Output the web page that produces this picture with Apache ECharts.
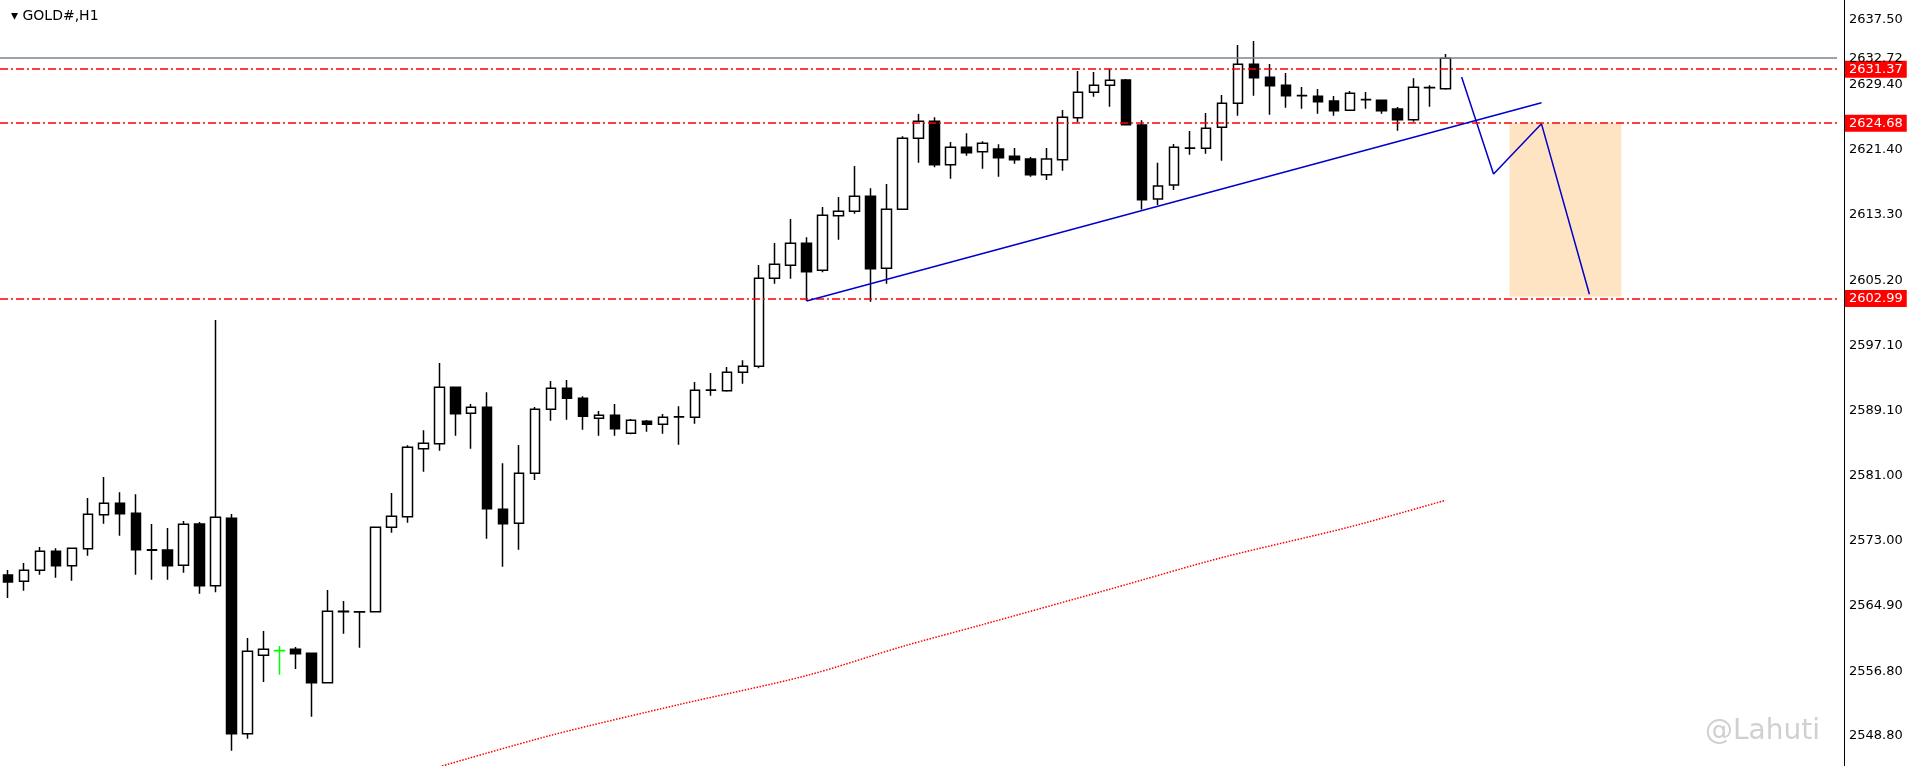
<!DOCTYPE html>
<html>
<head>
<meta charset="utf-8">
<script src="https://cdn.jsdelivr.net/npm/echarts@6/dist/echarts.min.js"></script>
<style>
  html, body { margin: 0; padding: 0; background: #fff; }
  #chart { width: 1920px; height: 766px; }
</style>
</head>
<body>
<div id="chart"></div>
<script>
    // 每根K线: [open, close, low, high]
    var candles = [
        [2568.74, 2567.88, 2565.90, 2569.36], [2567.97, 2569.33, 2566.80, 2570.23], [2569.33, 2571.68, 2568.78, 2572.21],
        [2571.68, 2569.90, 2568.41, 2572.05], [2569.90, 2572.05, 2568.04, 2572.10], [2572.00, 2576.26, 2571.13, 2578.28],
        [2576.21, 2577.62, 2575.10, 2580.88], [2577.62, 2576.33, 2573.61, 2578.98], [2576.38, 2571.88, 2568.78, 2578.74],
        [2571.88, 2571.80, 2568.16, 2575.06], [2571.84, 2569.90, 2568.16, 2574.56], [2569.95, 2575.02, 2569.03, 2575.43],
        [2575.06, 2567.42, 2566.43, 2575.30], [2567.42, 2575.89, 2566.60, 2600.31], [2575.76, 2549.10, 2546.99, 2576.30],
        [2549.10, 2559.30, 2548.48, 2560.95], [2558.80, 2559.55, 2555.50, 2561.81], [2559.37, 2559.40, 2556.40, 2559.96],
        [2559.55, 2559.00, 2557.11, 2559.83], [2559.05, 2555.41, 2551.20, 2559.10], [2555.41, 2564.25, 2555.40, 2566.89],
        [2564.20, 2564.25, 2561.48, 2565.53], [2564.16, 2564.20, 2559.74, 2564.25], [2564.20, 2574.65, 2564.16, 2574.70],
        [2574.65, 2576.01, 2573.98, 2578.90], [2575.96, 2584.55, 2575.22, 2584.80], [2584.38, 2585.05, 2581.53, 2586.66],
        [2585.00, 2591.98, 2584.13, 2594.99], [2591.98, 2588.71, 2585.99, 2592.00], [2588.76, 2589.51, 2584.38, 2589.91],
        [2589.51, 2576.95, 2573.24, 2591.36], [2576.88, 2575.10, 2569.77, 2582.57], [2575.15, 2581.34, 2571.88, 2584.84],
        [2581.34, 2589.26, 2580.51, 2589.54], [2589.26, 2591.86, 2587.85, 2592.76], [2591.86, 2590.62, 2587.97, 2592.89],
        [2590.62, 2588.39, 2586.73, 2590.87], [2588.14, 2588.52, 2585.99, 2589.05], [2588.52, 2586.86, 2585.99, 2589.91],
        [2586.29, 2587.90, 2586.16, 2588.06], [2587.77, 2587.40, 2586.49, 2587.93], [2587.40, 2588.27, 2586.24, 2588.68],
        [2588.34, 2588.30, 2584.88, 2589.63], [2588.27, 2591.61, 2587.48, 2592.64], [2591.61, 2591.65, 2590.94, 2593.75],
        [2591.56, 2593.84, 2591.44, 2594.50], [2593.84, 2594.58, 2592.43, 2595.33], [2594.58, 2605.48, 2594.33, 2607.12],
        [2605.48, 2607.21, 2604.81, 2609.85], [2607.09, 2609.81, 2605.43, 2612.82], [2609.81, 2606.29, 2602.67, 2610.55],
        [2606.47, 2613.28, 2606.22, 2614.30], [2613.23, 2613.77, 2610.26, 2615.54], [2613.77, 2615.63, 2613.47, 2619.38],
        [2615.63, 2606.66, 2602.58, 2616.62], [2606.71, 2614.02, 2604.81, 2617.15], [2614.02, 2622.81, 2613.93, 2623.06],
        [2622.81, 2624.91, 2619.79, 2625.82], [2624.91, 2619.54, 2619.22, 2625.41], [2619.54, 2621.69, 2617.81, 2622.35],
        [2621.69, 2621.03, 2620.65, 2623.43], [2621.15, 2622.19, 2619.05, 2622.44], [2621.48, 2620.41, 2618.05, 2622.07],
        [2620.58, 2620.16, 2619.66, 2621.61], [2620.25, 2618.30, 2618.05, 2620.49], [2618.30, 2620.25, 2617.65, 2621.61],
        [2620.16, 2625.41, 2618.80, 2626.31], [2625.36, 2628.50, 2624.83, 2631.14], [2628.50, 2629.37, 2627.96, 2631.02],
        [2629.37, 2629.99, 2626.72, 2631.43], [2630.03, 2624.49, 2624.40, 2630.15], [2624.45, 2615.19, 2613.98, 2625.04],
        [2615.29, 2616.90, 2614.55, 2619.79], [2617.03, 2621.69, 2616.41, 2622.10], [2621.57, 2621.60, 2620.78, 2623.71],
        [2621.57, 2624.05, 2620.90, 2625.94], [2624.17, 2627.14, 2620.04, 2628.17], [2627.14, 2631.97, 2625.61, 2634.36],
        [2631.97, 2630.31, 2628.08, 2634.85], [2630.36, 2629.32, 2625.73, 2632.01], [2629.37, 2628.08, 2626.60, 2630.89],
        [2628.08, 2628.10, 2626.47, 2629.16], [2628.01, 2627.34, 2625.85, 2628.91], [2627.43, 2626.23, 2625.61, 2628.05],
        [2626.27, 2628.38, 2626.27, 2628.66], [2627.59, 2627.60, 2626.47, 2628.54], [2627.51, 2626.23, 2625.85, 2627.51],
        [2626.44, 2625.11, 2623.75, 2626.68], [2625.11, 2629.12, 2624.86, 2630.24], [2629.07, 2629.10, 2626.72, 2629.37],
        [2628.95, 2632.72, 2628.83, 2633.24]
    ];
    var greenIndex = 17;
    var totalSlots = 115;

    // 右侧价格刻度
    var tickLabels = ['2637.50', '2629.40', '2621.40', '2613.30', '2605.20', '2597.10',
        '2589.10', '2581.00', '2573.00', '2564.90', '2556.80', '2548.80'];

    // 水平线
    var levels = [2631.37, 2624.68, 2602.99];
    var bidPrice = 2632.72;

    // 趋势线和预测折线
    var trendLine = [[50, 2602.67], [96, 2627.2]];
    var zigzag = [[91, 2630.4], [93, 2618.4], [96, 2624.6], [99, 2603.5]];
    var targetBox = [[94, 2624.68], [101, 2603.2]];

    // 红色虚线均线
    var maLine = [[27, 2545.0], [34, 2548.9], [42, 2552.7], [49.5, 2556.3], [56, 2559.9],
        [61, 2562.6], [68.6, 2567.0], [76.3, 2570.9], [83.9, 2574.7], [90, 2578.0]];

    var cats = [];
    for (var i = 0; i < totalSlots; i++) cats.push(i);

    var candleData = candles.map(function (c, i) {
        if (i === greenIndex) {
            return { value: c, itemStyle: { borderColor: '#00ff00', borderColor0: '#00ff00', color: '#00ff00' } };
        }
        return c;
    });

    var markLines = tickLabels.map(function (t) {
        return {
            yAxis: parseFloat(t),
            lineStyle: { color: 'rgba(0,0,0,0)', width: 0 },
            label: { show: true, position: 'end', distance: 12, formatter: t, color: '#000', fontSize: 13, fontFamily: 'DejaVu Sans' }
        };
    });
    levels.forEach(function (v) {
        markLines.push({
            yAxis: v,
            lineStyle: { color: '#ff0000', type: [8, 3, 2, 3], width: 1.5 },
            label: { show: true, position: 'end', distance: 8, formatter: v.toFixed(2), color: '#fff',
                backgroundColor: '#ff0000', padding: [2, 4], fontSize: 13, fontFamily: 'DejaVu Sans' }
        });
    });
    markLines.push({
        yAxis: bidPrice,
        lineStyle: { color: '#7a8590', type: 'solid', width: 1.5 },
        label: { show: true, position: 'end', distance: 12, formatter: bidPrice.toFixed(2), color: '#000',
            fontSize: 13, fontFamily: 'DejaVu Sans' }
    });
    markLines.push([
        { coord: trendLine[0], lineStyle: { color: '#0000cc', type: 'solid', width: 1.5 }, label: { show: false } },
        { coord: trendLine[1] }
    ]);

    var chart = echarts.init(document.getElementById('chart'));
    chart.setOption({
        animation: false,
        backgroundColor: '#fff',
        title: {
            text: '▾ GOLD#,H1',
            left: 6, top: 4,
            textStyle: { fontSize: 14, fontWeight: 'normal', color: '#000', fontFamily: 'DejaVu Sans' }
        },
        graphic: [{
            type: 'text', right: 100, bottom: 20,
            style: { text: '@Lahuti', fill: '#d0d0d0', font: '28px DejaVu Sans' }
        }],
        grid: { left: -3, right: 83, top: 0, bottom: 0 },
        xAxis: {
            type: 'category', data: cats, boundaryGap: true,
            axisLine: { show: false }, axisTick: { show: false }, axisLabel: { show: false }, splitLine: { show: false }
        },
        yAxis: {
            type: 'value', position: 'right', offset: 7, min: 2545.1, max: 2639.93,
            axisLine: { show: true, lineStyle: { color: '#000' } },
            axisTick: { show: false }, axisLabel: { show: false }, splitLine: { show: false }
        },
        series: [
            {
                type: 'candlestick',
                data: candleData,
                barWidth: 10,
                itemStyle: { color: '#fff', color0: '#000', borderColor: '#000', borderColor0: '#000', borderWidth: 1.5 },
                markLine: { silent: true, symbol: 'none', data: markLines },
                markArea: {
                    silent: true,
                    itemStyle: { color: '#ffe4c4' },
                    data: [[{ coord: targetBox[0] }, { coord: targetBox[1] }]]
                },
                z: 3
            },
            {
                type: 'line', data: zigzag, symbol: 'none',
                lineStyle: { color: '#0000cc', width: 1.5 }, z: 4
            },
            {
                type: 'line', data: maLine, symbol: 'none', smooth: 0.3,
                lineStyle: { color: '#ff0000', width: 1.5, type: 'dotted' }, z: 2
            }
        ]
    });
</script>
</body>
</html>
